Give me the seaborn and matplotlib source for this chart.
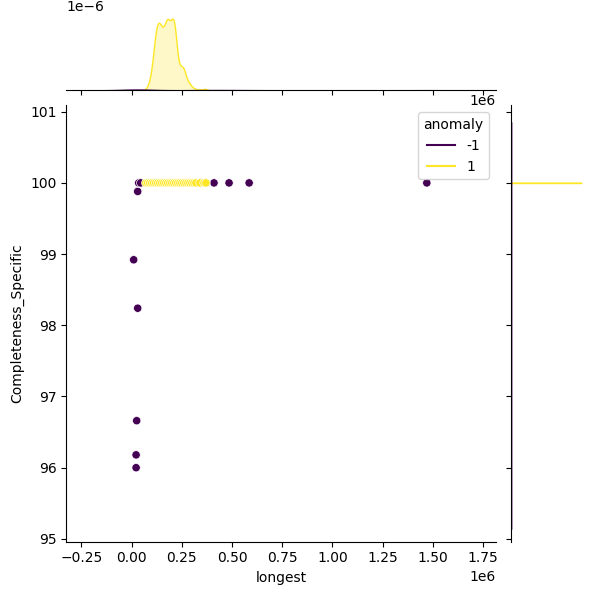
import matplotlib
matplotlib.use("Agg")
import matplotlib.pyplot as plt
from matplotlib.lines import Line2D
import numpy as np
import pandas as pd
import seaborn as sns

# ---- data ----
# anomalies (anomaly = -1)
anom_longest = [0.010e6, 0.030e6, 0.025e6, 0.022e6, 0.022e6, 0.030e6,
                0.035e6, 0.045e6, 0.345e6, 0.410e6, 0.485e6, 0.585e6, 1.470e6]
anom_completeness = [98.92, 98.24, 96.66, 96.18, 96.00, 99.88,
                     100.0, 100.0, 100.0, 100.0, 100.0, 100.0, 100.0]
anom_count = [1] * 13

# normal points (anomaly = 1), many overlapping -> count per position
norm_longest = [0.07e6, 0.08e6, 0.09e6, 0.10e6, 0.11e6, 0.12e6, 0.13e6, 0.14e6,
                0.15e6, 0.16e6, 0.17e6, 0.18e6, 0.19e6, 0.20e6, 0.21e6, 0.22e6,
                0.23e6, 0.24e6, 0.25e6, 0.26e6, 0.27e6, 0.28e6, 0.29e6, 0.30e6,
                0.31e6, 0.32e6, 0.34e6, 0.36e6, 0.37e6]
norm_completeness = [99.999] + [100.0] * 28
norm_count = [1, 2, 6, 12, 24, 36, 40, 40, 36, 36, 40, 44, 38, 42, 44, 34,
              16, 14, 14, 14, 8, 5, 4, 2, 1, 1, 1, 1, 1]

df = pd.DataFrame({
    "longest": anom_longest + norm_longest,
    "Completeness_Specific": anom_completeness + norm_completeness,
    "anomaly": [-1] * len(anom_longest) + [1] * len(norm_longest),
    "count": anom_count + norm_count,
})

g = sns.JointGrid(data=df, x="longest", y="Completeness_Specific",
                  hue="anomaly", palette="viridis", height=6)
g.plot_joint(sns.scatterplot, legend=False)
sns.kdeplot(data=df, x="longest", hue="anomaly", weights="count",
            palette="viridis", fill=True, bw_adjust=0.3, legend=False,
            warn_singular=False, ax=g.ax_marg_x)
sns.kdeplot(data=df, y="Completeness_Specific", hue="anomaly", weights="count",
            palette="viridis", fill=True, bw_adjust=0.3, legend=False,
            warn_singular=False, ax=g.ax_marg_y)

g.ax_joint.set_xlim(-0.325e6, 1.815e6)
g.ax_joint.set_ylim(94.96, 101.09)

cmap = plt.get_cmap("viridis")
handles = [Line2D([], [], color=cmap(0.0), lw=1.5),
           Line2D([], [], color=cmap(1.0), lw=1.5)]
g.ax_joint.legend(handles, ["-1", "1"], title="anomaly", loc="upper right")

g.figure.savefig("out.png", dpi=100)
